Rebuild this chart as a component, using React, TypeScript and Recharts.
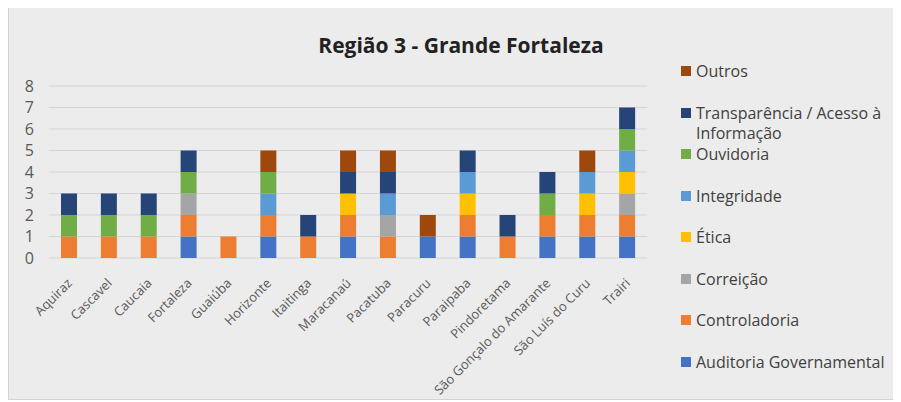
import { BarChart, Bar, XAxis, YAxis, CartesianGrid } from "recharts";

const CITIES = [
  "Aquiraz",
  "Cascavel",
  "Caucaia",
  "Fortaleza",
  "Guaiúba",
  "Horizonte",
  "Itaitinga",
  "Maracanaú",
  "Pacatuba",
  "Paracuru",
  "Paraipaba",
  "Pindoretama",
  "São Gonçalo do Amarante",
  "São Luís do Curu",
  "Trairi",
];

// one value per city, bottom of the stack first
const AUDITORIA = [0, 0, 0, 1, 0, 1, 0, 1, 0, 1, 1, 0, 1, 1, 1];
const CONTROLADORIA = [1, 1, 1, 1, 1, 1, 1, 1, 1, 0, 1, 1, 1, 1, 1];
const CORREICAO = [0, 0, 0, 1, 0, 0, 0, 0, 1, 0, 0, 0, 0, 0, 1];
const ETICA = [0, 0, 0, 0, 0, 0, 0, 1, 0, 0, 1, 0, 0, 1, 1];
const INTEGRIDADE = [0, 0, 0, 0, 0, 1, 0, 0, 1, 0, 1, 0, 0, 1, 1];
const OUVIDORIA = [1, 1, 1, 1, 0, 1, 0, 0, 0, 0, 0, 0, 1, 0, 1];
const TRANSPARENCIA = [1, 1, 1, 1, 0, 0, 1, 1, 1, 0, 1, 1, 1, 0, 1];
const OUTROS = [0, 0, 0, 0, 0, 1, 0, 1, 1, 1, 0, 0, 0, 1, 0];

const Y_TICKS = [0, 1, 2, 3, 4, 5, 6, 7, 8];

const SERIES = [
  { key: "Auditoria Governamental", values: AUDITORIA, color: "#4472c4" },
  { key: "Controladoria", values: CONTROLADORIA, color: "#ed7d31" },
  { key: "Correição", values: CORREICAO, color: "#a5a5a5" },
  { key: "Ética", values: ETICA, color: "#ffc000" },
  { key: "Integridade", values: INTEGRIDADE, color: "#5b9bd5" },
  { key: "Ouvidoria", values: OUVIDORIA, color: "#70ad47" },
  { key: "Transparência / Acesso à Informação", values: TRANSPARENCIA, color: "#264478" },
  { key: "Outros", values: OUTROS, color: "#9e480e" },
];

const data = CITIES.map((city, i) => {
  const row: Record<string, string | number> = { city };
  SERIES.forEach((s) => {
    row[s.key] = s.values[i];
  });
  return row;
});

const FONT = "'Open Sans', 'Noto Sans', sans-serif";

// rotated city label, end of the text sits just right of and below the bar
function CityTick({ x, y, payload }: any) {
  return (
    <g transform={`translate(${x + 4},${y + 26})`}>
      <text
        x={0}
        y={0}
        textAnchor="end"
        transform="rotate(-45)"
        fill="#595959"
        fontSize={13}
        fontFamily={FONT}
      >
        {payload.value}
      </text>
    </g>
  );
}

export default function App() {
  // legend reads top-down, opposite to the stack
  const legendItems = [...SERIES].reverse();

  return (
    <div
      style={{
        position: "relative",
        width: 890,
        height: 400,
        marginTop: -8,
        background: "#ececec",
        border: "1px solid #d4d4d4",
        fontFamily: FONT,
        boxSizing: "border-box",
      }}
    >
      <div
        style={{
          position: "absolute",
          left: 0,
          width: 904,
          top: 30,
          textAlign: "center",
          fontSize: 21,
          fontWeight: 700,
          color: "#222",
        }}
      >
        Região 3 - Grande Fortaleza
      </div>

      <div style={{ position: "absolute", left: 0, top: 0 }}>
        <BarChart
          width={660}
          height={398}
          data={data}
          margin={{ top: 85, right: 22, bottom: 11, left: 0 }}
          barSize={16}
        >
          <CartesianGrid stroke="#d5d5d5" vertical={false} />
          <XAxis
            dataKey="city"
            interval={0}
            height={130}
            axisLine={false}
            tickLine={false}
            tickSize={0}
            tickMargin={0}
            tick={<CityTick />}
          />
          <YAxis
            domain={[0, 8]}
            ticks={Y_TICKS}
            interval={0}
            width={40}
            axisLine={false}
            tickLine={false}
            tickSize={0}
            tickMargin={15}
            tick={{ fill: "#595959", fontSize: 16, fontFamily: FONT }}
          />
          {SERIES.map((s) => (
            <Bar key={s.key} dataKey={s.key} stackId="a" fill={s.color} isAnimationActive={false} />
          ))}
        </BarChart>
      </div>

      {legendItems.map((s, i) => (
        <div
          key={s.key}
          style={{
            position: "absolute",
            left: 672,
            top: 60 + i * 41.5,
            width: 218,
            display: "flex",
            alignItems: "flex-start",
            fontSize: 16,
            lineHeight: "20px",
            color: "#404040",
          }}
        >
          <span
            style={{
              display: "inline-block",
              width: 10,
              height: 10,
              marginTop: 5,
              marginRight: 5,
              flexShrink: 0,
              background: s.color,
            }}
          />
          <span>{s.key}</span>
        </div>
      ))}
    </div>
  );
}
